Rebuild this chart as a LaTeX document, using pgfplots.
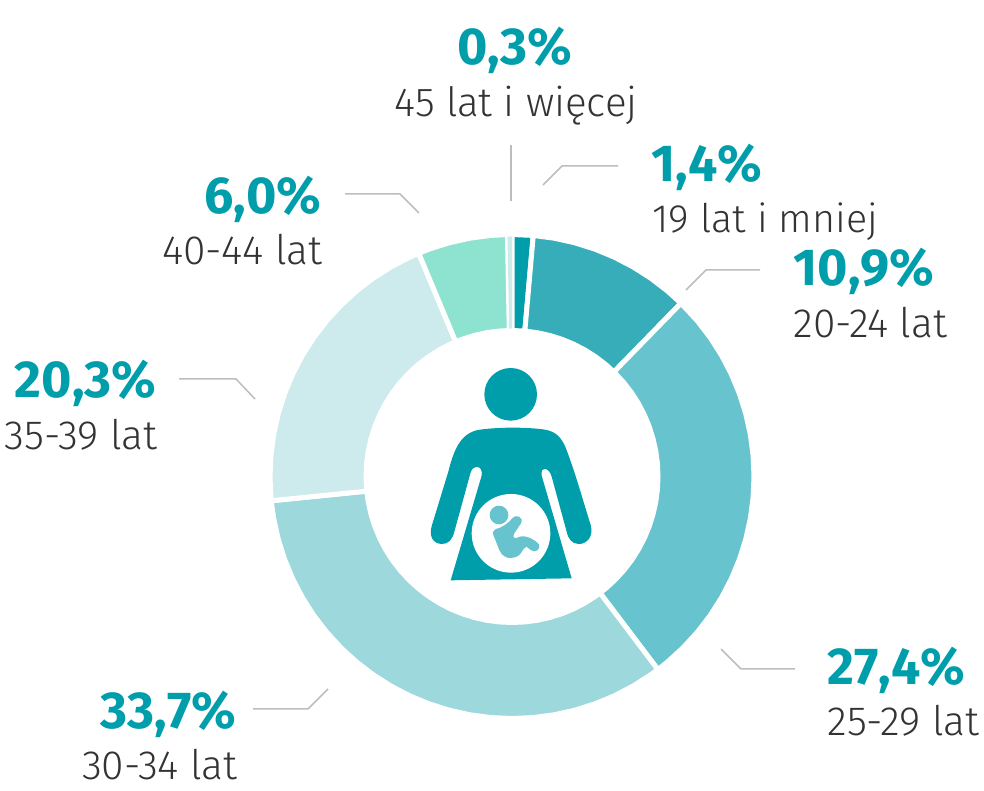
\documentclass[border=0pt]{standalone}
\usepackage{pgfplots}
\pgfplotsset{compat=1.18}
\usepackage{fontspec}
\setmainfont[Kerning=Off]{Fira Sans}
\newfontfamily\lightf{Fira Sans Light}
\definecolor{tealA}{HTML}{009DAB}
\definecolor{tealB}{HTML}{36ADB9}
\definecolor{tealC}{HTML}{67C3CD}
\definecolor{tealD}{HTML}{9CD8DC}
\definecolor{tealE}{HTML}{CDEBEC}
\definecolor{mint}{HTML}{8EE3D0}
\definecolor{leader}{HTML}{BDBDBD}
\definecolor{txt}{HTML}{333333}
\newcommand{\pct}[1]{{\fontsize{52}{60}\selectfont\bfseries\color{tealA}#1}}
\newcommand{\lab}[2][40.8]{{\lightf\fontsize{#1}{47}\selectfont\color{txt}#2}}
\begin{document}
\begin{tikzpicture}
\begin{axis}[
  hide axis, scale only axis, width=984pt, height=791pt,
  xmin=-512, xmax=472, ymin=-314.5, ymax=476.5, clip=false,
  wedge/.style={draw=white, line width=5pt, line join=miter, data cs=polar, fill=#1},
  lead/.style={draw=leader, line width=1.5pt, no marks},
  every node/.style={inner sep=0pt, outer sep=0pt},
]
\path (axis cs:-512,-314.5) rectangle (axis cs:472,476.5);
% 1,4 %
\addplot[wedge=tealA] coordinates {(90,242)(84.96,242)(84.96,146)(90,146)} -- cycle;
% 10,9 %
\addplot[wedge=tealB] coordinates {(84.96,242)(80,242)(75,242)(70,242)(65,242)(60,242)(55,242)(50,242)(45.72,242)
 (45.72,146)(50,146)(55,146)(60,146)(65,146)(70,146)(75,146)(80,146)(84.96,146)} -- cycle;
% 27,4 %
\addplot[wedge=tealC] coordinates {(45.72,242)(40,242)(35,242)(30,242)(25,242)(20,242)(15,242)(10,242)(5,242)(0,242)(-5,242)(-10,242)(-15,242)(-20,242)(-25,242)(-30,242)(-35,242)(-40,242)(-45,242)(-50,242)(-52.92,242)
 (-52.92,146)(-50,146)(-45,146)(-40,146)(-35,146)(-30,146)(-25,146)(-20,146)(-15,146)(-10,146)(-5,146)(0,146)(5,146)(10,146)(15,146)(20,146)(25,146)(30,146)(35,146)(40,146)(45.72,146)} -- cycle;
% 33,7 %
\addplot[wedge=tealD] coordinates {(-52.92,242)(-55,242)(-60,242)(-65,242)(-70,242)(-75,242)(-80,242)(-85,242)(-90,242)(-95,242)(-100,242)(-105,242)(-110,242)(-115,242)(-120,242)(-125,242)(-130,242)(-135,242)(-140,242)(-145,242)(-150,242)(-155,242)(-160,242)(-165,242)(-170,242)(-174.24,242)
 (-174.24,146)(-170,146)(-165,146)(-160,146)(-155,146)(-150,146)(-145,146)(-140,146)(-135,146)(-130,146)(-125,146)(-120,146)(-115,146)(-110,146)(-105,146)(-100,146)(-95,146)(-90,146)(-85,146)(-80,146)(-75,146)(-70,146)(-65,146)(-60,146)(-55,146)(-52.92,146)} -- cycle;
% 20,3 %
\addplot[wedge=tealE] coordinates {(-174.24,242)(-175,242)(-180,242)(-185,242)(-190,242)(-195,242)(-200,242)(-205,242)(-210,242)(-215,242)(-220,242)(-225,242)(-230,242)(-235,242)(-240,242)(-245,242)(-247.32,242)
 (-247.32,146)(-245,146)(-240,146)(-235,146)(-230,146)(-225,146)(-220,146)(-215,146)(-210,146)(-205,146)(-200,146)(-195,146)(-190,146)(-185,146)(-180,146)(-175,146)(-174.24,146)} -- cycle;
% 6,0 %
\addplot[wedge=mint] coordinates {(-247.32,242)(-250,242)(-255,242)(-260,242)(-265,242)(-268.92,242)
 (-268.92,146)(-265,146)(-260,146)(-255,146)(-250,146)(-247.32,146)} -- cycle;
% 0,3 %
\addplot[fill=tealE, draw=none, data cs=polar] coordinates {(-268.92,240)(-270,240)(-270,148)(-268.92,148)} -- cycle;
% leader lines
\addplot[lead] coordinates {(-1,331.5)(-1,275.5)};
\addplot[lead] coordinates {(31,291.5)(50,310.5)(106,310.5)};
\addplot[lead] coordinates {(174,186.5)(194,206.5)(248,206.5)};
\addplot[lead] coordinates {(-167,282.5)(-112,282.5)(-93,263.5)};
\addplot[lead] coordinates {(-333,97.5)(-276,97.5)(-257,77.5)};
\addplot[lead] coordinates {(209,-172.5)(229,-192.5)(283,-192.5)};
\addplot[lead] coordinates {(-259,-232.5)(-204,-232.5)(-184,-212.5)};
% labels
\node[anchor=base] at (axis cs:2.5,411.5) {\pct{0,3\%}};
\node[anchor=base west] at (axis cs:-121,359.5) {\lab[40.4]{45 lat i więcej}};
\node[anchor=base west] at (axis cs:136,294.5) {\pct{1,4\%}};
\node[anchor=base west] at (axis cs:137,243.5) {\lab[39.5]{19 lat i mniej}};
\node[anchor=base west] at (axis cs:278,190.5) {\pct{10,9\%}};
\node[anchor=base west] at (axis cs:278,138.5) {\lab{20-24 lat}};
\node[anchor=base east] at (axis cs:-187,262.5) {\pct{6,0\%}};
\node[anchor=base east] at (axis cs:-186,211.5) {\lab{40-44 lat}};
\node[anchor=base east] at (axis cs:-352,78.5) {\pct{20,3\%}};
\node[anchor=base east] at (axis cs:-351,26.5) {\lab{35-39 lat}};
\node[anchor=base west] at (axis cs:312,-208.5) {\pct{27,4\%}};
\node[anchor=base west] at (axis cs:312,-259.5) {\lab{25-29 lat}};
\node[anchor=base east] at (axis cs:-272,-252.5) {\pct{33,7\%}};
\node[anchor=base east] at (axis cs:-271,-303.5) {\lab{30-34 lat}};
% pictogram (coordinates in 1/3 px from the icon's corner)
\begin{scope}[shift={(axis cs:-92,121.5)},x=0.33333pt,y=-0.33333pt]
 \fill[tealA] (272,118) circle [radius=79];
 \fill[tealA] (180,224) .. controls (240,216) and (320,216) .. (375,224)
   .. controls (410,230) and (425,250) .. (437,278)
   .. controls (465,350) and (490,440) .. (512,510)
   .. controls (522,545) and (500,568) .. (475,567)
   .. controls (455,566) and (445,552) .. (440,530)
   -- (395,365) .. controls (388,338) and (360,330) .. (365,362)
   -- (455,670) -- (92,676) -- (185,362)
   .. controls (190,330) and (160,328) .. (152,352)
   -- (103,530) .. controls (97,555) and (85,567) .. (65,567)
   .. controls (40,566) and (25,545) .. (36,510)
   -- (85,350) .. controls (100,290) and (120,232) .. (180,224) -- cycle;
 \fill[white] (273,535) circle [radius=118];
 \fill[tealC] (237,480) circle [radius=28];
 \fill[tealC] (228,522) .. controls (245,518) and (265,505) .. (277,490)
   .. controls (290,475) and (312,488) .. (303,505)
   -- (283,535) .. controls (275,550) and (285,552) .. (300,545)
   .. controls (320,540) and (345,555) .. (357,568)
   .. controls (362,585) and (345,595) .. (332,585)
   -- (320,575) .. controls (305,580) and (310,595) .. (290,605)
   .. controls (265,615) and (245,605) .. (238,585)
   -- (220,540) .. controls (218,530) and (220,525) .. (228,522) -- cycle;
\end{scope}
\end{axis}
\end{tikzpicture}
\end{document}
